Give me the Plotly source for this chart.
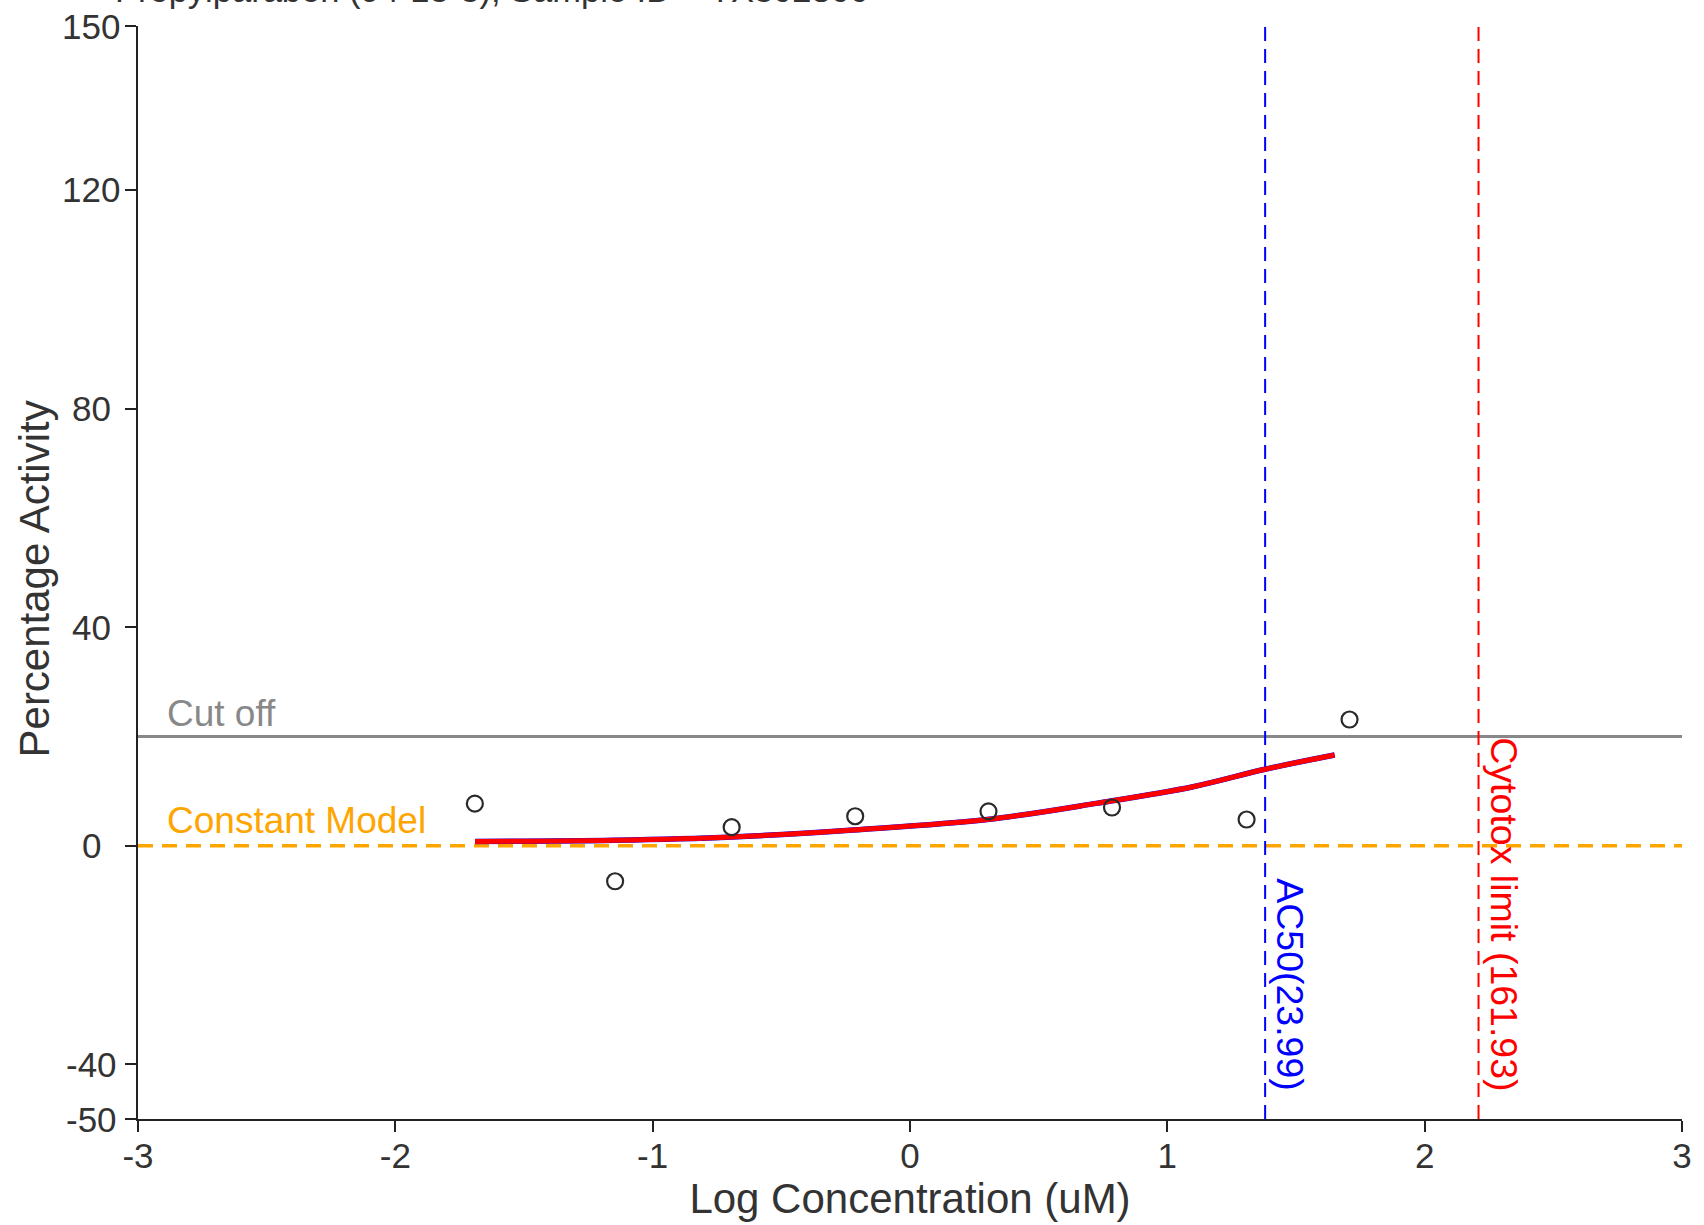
import math
import plotly.graph_objects as go

# ---------------- data ----------------
title_text = "Propylparaben (94-13-3), Sample ID = TX302800"

log_conc = [-1.691, -1.146, -0.693, -0.213, 0.305, 0.785, 1.308, 1.708]
activity = [7.7, -6.5, 3.4, 5.4, 6.3, 7.0, 4.8, 23.1]

curve_x = [-1.69, -1.15, -0.69, -0.22, 0.30, 0.73, 1.10, 1.38, 1.65]
curve_y = [0.8, 1.0, 1.6, 2.9, 4.8, 7.8, 10.8, 14.0, 16.6]

cutoff = 20
constant_model = 0
ac50_um = 23.99
cytotox_um = 161.93

x_ticks = [-3, -2, -1, 0, 1, 2, 3]
x_tick_labels = ["-3", "-2", "-1", "0", "1", "2", "3"]
y_ticks = [150, 120, 80, 40, 0, -40, -50]
y_tick_labels = ["150", "120", "80", "40", "0", "-40", "-50"]
x_range = [-3, 3]
y_range = [-50, 150]

x_title = "Log Concentration (uM)"
y_title = "Percentage Activity"
ac50_label = "AC50(%.2f)" % ac50_um
cytotox_label = "Cytotox limit (%.2f)" % cytotox_um

FONT = "Liberation Sans, Arial, sans-serif"
TXT = "#333333"

ac50_x = math.log10(ac50_um)
cytotox_x = math.log10(cytotox_um)

fig = go.Figure()

# fitted curve: blue underneath, red on top
fig.add_trace(go.Scatter(x=curve_x, y=curve_y, mode="lines",
                         line=dict(color="#0000ff", width=5.5, shape="spline"),
                         hoverinfo="skip", showlegend=False))
fig.add_trace(go.Scatter(x=curve_x, y=curve_y, mode="lines",
                         line=dict(color="#ff0000", width=5, shape="spline"),
                         hoverinfo="skip", showlegend=False))
# data points
fig.add_trace(go.Scatter(x=log_conc, y=activity, mode="markers",
                         marker=dict(symbol="circle-open", size=16, color="#2a2a2a",
                                     line=dict(width=2.2, color="#2a2a2a")),
                         showlegend=False))

shapes = [
    dict(type="line", xref="x", yref="y", x0=x_range[0], x1=x_range[1], y0=cutoff, y1=cutoff,
         line=dict(color="#888888", width=3), layer="below"),
    dict(type="line", xref="x", yref="y", x0=x_range[0], x1=x_range[1],
         y0=constant_model, y1=constant_model,
         line=dict(color="#ffa500", width=3.5, dash="15px,9px"), layer="below"),
    dict(type="line", xref="x", yref="y", x0=ac50_x, x1=ac50_x, y0=y_range[0], y1=y_range[1],
         line=dict(color="#0000ff", width=2, dash="14px,8px"), layer="below"),
    dict(type="line", xref="x", yref="y", x0=cytotox_x, x1=cytotox_x, y0=y_range[0], y1=y_range[1],
         line=dict(color="#ff0000", width=2, dash="14px,8px"), layer="below"),
]

annotations = [
    dict(text=title_text, xref="paper", yref="paper", x=-0.0165, y=1.0, yshift=36,
         xanchor="left", yanchor="middle", showarrow=False,
         font=dict(family=FONT, size=34.5, color=TXT)),
    dict(text="Cut off", xref="x", yref="y", x=-2.895, y=24.2,
         xanchor="left", yanchor="middle", showarrow=False,
         font=dict(family=FONT, size=37, color="#888888")),
    dict(text="Constant Model", xref="x", yref="y", x=-2.895, y=4.6,
         xanchor="left", yanchor="middle", showarrow=False,
         font=dict(family=FONT, size=37, color="#ffa500")),
    dict(text=ac50_label, xref="x", yref="y", x=ac50_x, y=-45.3, xshift=25.5,
         xanchor="center", yanchor="bottom", textangle=90, showarrow=False,
         font=dict(family=FONT, size=37.5, color="#0000ff")),
    dict(text=cytotox_label, xref="x", yref="y", x=cytotox_x, y=-45.3, xshift=25.5,
         xanchor="center", yanchor="bottom", textangle=90, showarrow=False,
         font=dict(family=FONT, size=37.5, color="#ff0000")),
    dict(text=y_title, xref="paper", yref="paper", x=0, y=0.4936, xshift=-104,
         xanchor="center", yanchor="middle", textangle=-90, showarrow=False,
         font=dict(family=FONT, size=42, color=TXT)),
]

# y tick labels are centred (not right-aligned) in the reference
for v, lab in zip(y_ticks, y_tick_labels):
    annotations.append(dict(text=lab, xref="paper", yref="y", x=0, y=v, xshift=-47,
                            xanchor="center", yanchor="middle", showarrow=False,
                            font=dict(family=FONT, size=35, color=TXT)))

fig.update_layout(
    width=1704, height=1225,
    margin=dict(l=138, r=14, t=26, b=106, pad=0),
    paper_bgcolor="white", plot_bgcolor="white",
    font=dict(family=FONT, color=TXT),
    shapes=shapes, annotations=annotations,
    showlegend=False,
)

fig.update_xaxes(
    range=x_range, tickvals=x_ticks, ticktext=x_tick_labels,
    showgrid=False, zeroline=False,
    showline=True, linecolor="#222222", linewidth=2.2,
    ticks="outside", ticklen=11, tickwidth=2, tickcolor="#222222",
    tickfont=dict(family=FONT, size=35, color=TXT),
    ticklabelstandoff=-6,
    title=dict(text=x_title, font=dict(family=FONT, size=42, color=TXT), standoff=8),
)
fig.update_yaxes(
    range=y_range, tickvals=y_ticks,
    showticklabels=False,
    showgrid=False, zeroline=False,
    showline=True, linecolor="#222222", linewidth=2.2,
    ticks="outside", ticklen=11, tickwidth=2, tickcolor="#222222",
)

fig.write_html("out.html")
